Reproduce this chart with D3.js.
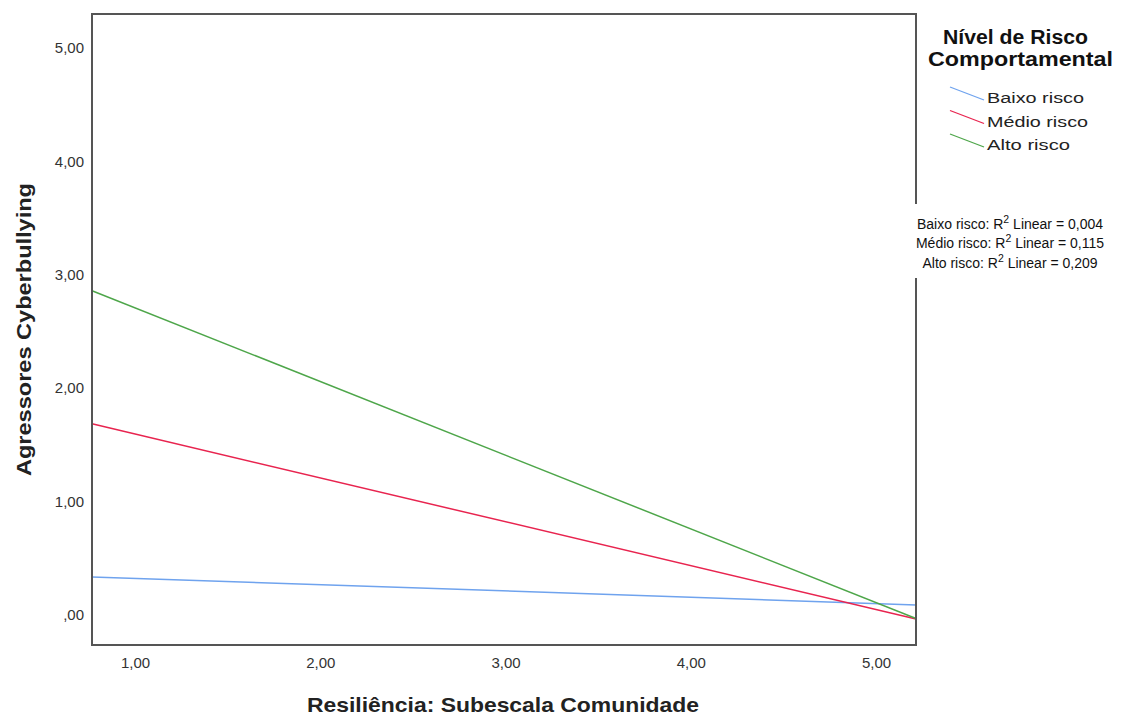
<!DOCTYPE html>
<html><head><meta charset="utf-8">
<script src="https://cdn.jsdelivr.net/npm/d3@7"></script>
<style>body{margin:0;background:#fff}svg{display:block;font-family:"Liberation Sans",Arial,sans-serif}</style>
</head><body><svg id="c" width="1130" height="716"></svg>
<script>
const groups = ["Baixo risco", "Médio risco", "Alto risco"];
const colors = ["#6fa3ee", "#e8244f", "#4ea64a"];
const intercepts = [0.378, 1.983, 3.359];
const slopes = [-0.0555, -0.387, -0.650];
const r2Values = ["0,004", "0,115", "0,209"];
const xTicks = [1, 2, 3, 4, 5];
const yTicks = [0, 1, 2, 3, 4, 5];
const xDomain = [0.768, 5.216];
const yDomain = [-0.265, 5.30];

const fmt = v => v === 0 ? ",00" : v.toFixed(2).replace(".", ",");
const svg = d3.select("#c");
const L = 92, R = 916, T = 14, B = 645;
const x = d3.scaleLinear().domain(xDomain).range([L, R]);
const y = d3.scaleLinear().domain(yDomain).range([B, T]);

// fit lines
const lineGen = d3.line().x(d => x(d[0])).y(d => y(d[1]));
groups.forEach((g, i) => {
  const pts = xDomain.map(v => [v, intercepts[i] + slopes[i] * v]);
  svg.append("path").attr("d", lineGen(pts)).attr("fill", "none")
    .attr("stroke", colors[i]).attr("stroke-width", 1.5);
});

// axes (labels only)
const xAxis = d3.axisBottom(x).tickValues(xTicks).tickFormat(fmt).tickSize(0).tickPadding(12);
const gx = svg.append("g").attr("transform", `translate(0,${B})`).call(xAxis);
gx.select(".domain").remove();
gx.selectAll("text").attr("font-size", 15).attr("fill", "#333").attr("font-family", "Liberation Sans, Arial, sans-serif");
const yAxis = d3.axisLeft(y).tickValues(yTicks).tickFormat(fmt).tickSize(0).tickPadding(8);
const gy = svg.append("g").attr("transform", `translate(${L},0)`).call(yAxis);
gy.select(".domain").remove();
gy.selectAll("text").attr("font-size", 15).attr("fill", "#333").attr("font-family", "Liberation Sans, Arial, sans-serif");

// frame
svg.append("rect").attr("x", L).attr("y", T).attr("width", R - L).attr("height", B - T)
  .attr("fill", "none").attr("stroke", "#555").attr("stroke-width", 2);

// axis titles
svg.append("text").attr("x", 503).attr("y", 712).attr("text-anchor", "middle")
  .attr("font-size", 20.5).attr("font-weight", "bold").attr("fill", "#222")
  .attr("textLength", 392).attr("lengthAdjust", "spacingAndGlyphs")
  .text("Resiliência: Subescala Comunidade");
svg.append("text").attr("transform", "translate(31,329.5) rotate(-90)").attr("text-anchor", "middle")
  .attr("font-size", 20.5).attr("font-weight", "bold").attr("fill", "#222")
  .attr("textLength", 293).attr("lengthAdjust", "spacingAndGlyphs")
  .text("Agressores Cyberbullying");

// legend
const lg = svg.append("g");
lg.append("text").attr("x", 1015.5).attr("y", 44).attr("text-anchor", "middle")
  .attr("font-size", 19.5).attr("font-weight", "bold").attr("fill", "#111")
  .attr("textLength", 145).attr("lengthAdjust", "spacingAndGlyphs").text("Nível de Risco");
lg.append("text").attr("x", 1020.5).attr("y", 66).attr("text-anchor", "middle")
  .attr("font-size", 19.5).attr("font-weight", "bold").attr("fill", "#111")
  .attr("textLength", 185).attr("lengthAdjust", "spacingAndGlyphs").text("Comportamental");
const itemW = [97, 101, 83];
groups.forEach((g, i) => {
  const by = 103 + i * 23.5;
  lg.append("line").attr("x1", 950).attr("y1", by - 16).attr("x2", 984).attr("y2", by - 3)
    .attr("stroke", colors[i]).attr("stroke-width", 1.3);
  lg.append("text").attr("x", 987).attr("y", by).attr("font-size", 15.5).attr("fill", "#222")
    .attr("textLength", itemW[i]).attr("lengthAdjust", "spacingAndGlyphs").text(g);
});

// R2 annotations
svg.append("rect").attr("x", 914).attr("y", 204).attr("width", 200).attr("height", 74).attr("fill", "#fff");
groups.forEach((g, i) => {
  const t = svg.append("text").attr("x", 1010).attr("y", 228.5 + i * 19.5).attr("text-anchor", "middle")
    .attr("font-size", 14).attr("fill", "#111");
  t.append("tspan").text(g + ": R");
  t.append("tspan").attr("dy", -6).attr("font-size", 10.5).text("2");
  t.append("tspan").attr("dy", 6).text(" Linear = " + r2Values[i]);
});
</script></body></html>
